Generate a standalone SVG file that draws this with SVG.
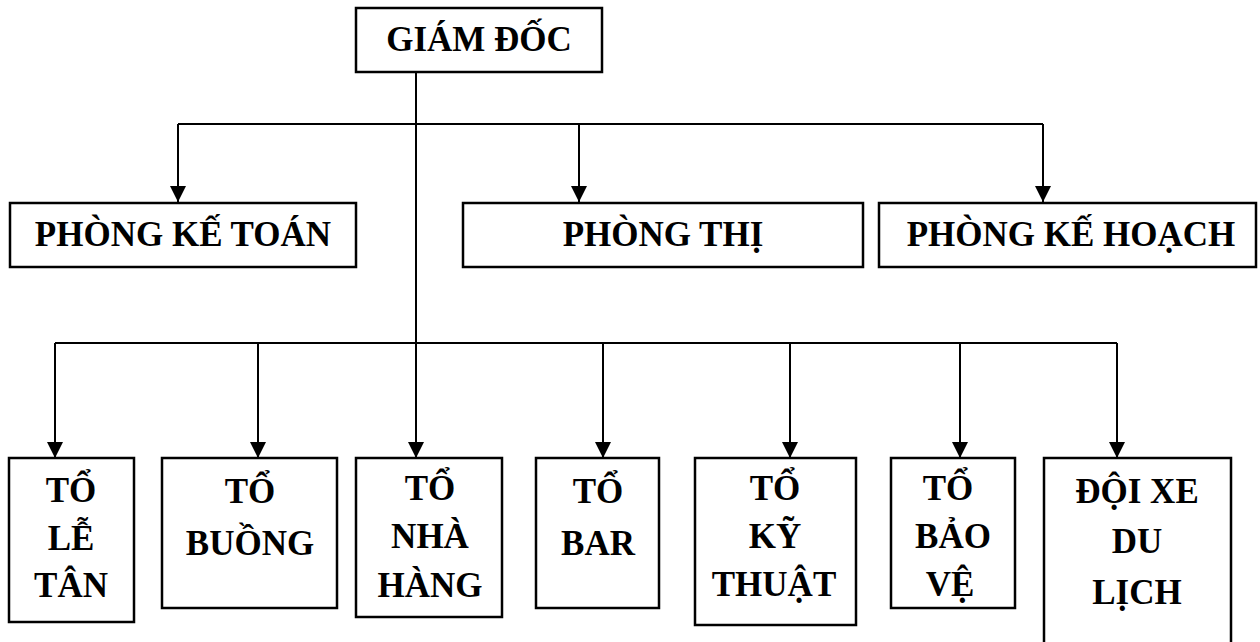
<svg xmlns="http://www.w3.org/2000/svg" width="1260" height="642" viewBox="0 0 1260 642">
  <style>
    .box { fill: #ffffff; stroke: #000000; stroke-width: 2.5; }
    .wire { fill: none; stroke: #000000; stroke-width: 2; }
    .lbl { font-family: 'Liberation Serif', 'Times New Roman', serif; font-weight: bold; font-size: 35px; fill: #000000; text-anchor: middle; }
  </style>
  <defs>
    <marker id="arrow" markerUnits="userSpaceOnUse" markerWidth="18" markerHeight="18" refX="16" refY="8" orient="auto">
      <path d="M0,0 L16,8 L0,16 z" fill="#000000"/>
    </marker>
  </defs>

  <rect width="1260" height="642" fill="#ffffff"/>

  <!-- connectors -->
  <g id="connectors">
    <!-- trunk from the director -->
    <path class="wire" d="M416,72 V343"/>
    <!-- upper bus to departments -->
    <path class="wire" d="M178,124 H1043"/>
    <path class="wire" d="M178,124 V202" marker-end="url(#arrow)"/>
    <path class="wire" d="M579,124 V202" marker-end="url(#arrow)"/>
    <path class="wire" d="M1043,124 V202" marker-end="url(#arrow)"/>
    <!-- lower bus to teams -->
    <path class="wire" d="M55,343 H1117"/>
    <path class="wire" d="M55,343 V458" marker-end="url(#arrow)"/>
    <path class="wire" d="M258,343 V458" marker-end="url(#arrow)"/>
    <path class="wire" d="M416,343 V458" marker-end="url(#arrow)"/>
    <path class="wire" d="M603,343 V458" marker-end="url(#arrow)"/>
    <path class="wire" d="M790,343 V458" marker-end="url(#arrow)"/>
    <path class="wire" d="M960,343 V458" marker-end="url(#arrow)"/>
    <path class="wire" d="M1117,343 V458" marker-end="url(#arrow)"/>
  </g>

  <!-- director -->
  <g id="giam-doc">
    <rect class="box" x="356" y="8" width="246" height="64"/>
    <text class="lbl" x="479" y="51">GIÁM ĐỐC</text>
  </g>

  <!-- departments -->
  <g id="phong-ke-toan">
    <rect class="box" x="10" y="203" width="346" height="64"/>
    <text class="lbl" x="183" y="246">PHÒNG KẾ TOÁN</text>
  </g>
  <g id="phong-thi">
    <rect class="box" x="463" y="203" width="400" height="64"/>
    <text class="lbl" x="663" y="246">PHÒNG THỊ</text>
  </g>
  <g id="phong-ke-hoach">
    <rect class="box" x="879" y="203" width="377" height="64"/>
    <text class="lbl" x="1071" y="246">PHÒNG KẾ HOẠCH</text>
  </g>

  <!-- teams -->
  <g id="to-le-tan">
    <rect class="box" x="9" y="458" width="125" height="164"/>
    <text class="lbl" x="71" y="502">TỔ</text>
    <text class="lbl" x="71" y="550">LỄ</text>
    <text class="lbl" x="71" y="597">TÂN</text>
  </g>
  <g id="to-buong">
    <rect class="box" x="162" y="458" width="175" height="150"/>
    <text class="lbl" x="250" y="503">TỔ</text>
    <text class="lbl" x="250" y="555">BUỒNG</text>
  </g>
  <g id="to-nha-hang">
    <rect class="box" x="356" y="458" width="146" height="159"/>
    <text class="lbl" x="430" y="500">TỔ</text>
    <text class="lbl" x="430" y="548">NHÀ</text>
    <text class="lbl" x="430" y="597">HÀNG</text>
  </g>
  <g id="to-bar">
    <rect class="box" x="536" y="458" width="123" height="150"/>
    <text class="lbl" x="598" y="503">TỔ</text>
    <text class="lbl" x="598" y="555">BAR</text>
  </g>
  <g id="to-ky-thuat">
    <rect class="box" x="695" y="458" width="161" height="167"/>
    <text class="lbl" x="775" y="500">TỔ</text>
    <text class="lbl" x="775" y="548">KỸ</text>
    <text class="lbl" x="774" y="596">THUẬT</text>
  </g>
  <g id="to-bao-ve">
    <rect class="box" x="891" y="458" width="124" height="150"/>
    <text class="lbl" x="948" y="500">TỔ</text>
    <text class="lbl" x="953" y="548">BẢO</text>
    <text class="lbl" x="950" y="596">VỆ</text>
  </g>
  <g id="doi-xe-du-lich">
    <rect class="box" x="1044" y="458" width="187" height="190"/>
    <text class="lbl" x="1137" y="503">ĐỘI XE</text>
    <text class="lbl" x="1137" y="553">DU</text>
    <text class="lbl" x="1137" y="604">LỊCH</text>
  </g>
</svg>
